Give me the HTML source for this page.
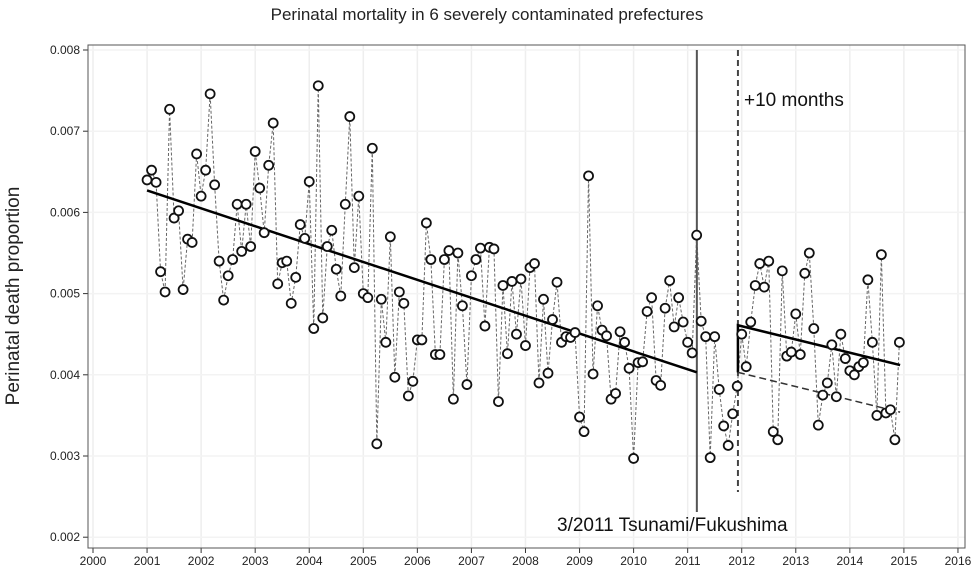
<!DOCTYPE html>
<html><head><meta charset="utf-8"><style>
body{margin:0;background:#fff;}
svg text{font-family:"Liberation Sans",Arial,sans-serif;}
</style></head><body>
<svg id="chart" width="975" height="568" viewBox="0 0 975 568" xmlns="http://www.w3.org/2000/svg">
<text x="487" y="20" text-anchor="middle" font-size="17" fill="#222">Perinatal mortality in 6 severely contaminated prefectures</text>
<text transform="translate(19,296) rotate(-90)" text-anchor="middle" font-size="19" fill="#222">Perinatal death proportion</text>
<g id="grid"></g>
<g id="axes"></g>
<g id="series"></g>
<text x="744" y="106" font-size="19" fill="#111">+10 months</text>
<text x="557" y="531" font-size="19" fill="#111">3/2011 Tsunami/Fukushima</text>
</svg>
<script>
const xTicks=[2000,2001,2002,2003,2004,2005,2006,2007,2008,2009,2010,2011,2012,2013,2014,2015,2016];
const yTicks=[0.002,0.003,0.004,0.005,0.006,0.007,0.008];
const yTickLabels=["0.002","0.003","0.004","0.005","0.006","0.007","0.008"];
const startYear=2001;
// monthly values (per thousand) Jan 2001 - Dec 2014
const values=[
6.40,6.52,6.37,5.27,5.02,7.27,5.93,6.02,5.05,5.67,5.63,6.72,
6.20,6.52,7.46,6.34,5.40,4.92,5.22,5.42,6.10,5.52,6.10,5.58,
6.75,6.30,5.75,6.58,7.10,5.12,5.38,5.40,4.88,5.20,5.85,5.68,
6.38,4.57,7.56,4.70,5.58,5.78,5.30,4.97,6.10,7.18,5.32,6.20,
5.00,4.95,6.79,3.15,4.93,4.40,5.70,3.97,5.02,4.88,3.74,3.92,
4.43,4.43,5.87,5.42,4.25,4.25,5.42,5.53,3.70,5.50,4.85,3.88,
5.22,5.42,5.56,4.60,5.57,5.55,3.67,5.10,4.26,5.15,4.50,5.18,
4.36,5.32,5.37,3.90,4.93,4.02,4.68,5.14,4.40,4.47,4.46,4.52,
3.48,3.30,6.45,4.01,4.85,4.55,4.48,3.70,3.77,4.53,4.40,4.08,
2.97,4.15,4.16,4.78,4.95,3.93,3.87,4.82,5.16,4.59,4.95,4.65,
4.40,4.27,5.72,4.66,4.47,2.98,4.47,3.82,3.37,3.13,3.52,3.86,
4.50,4.10,4.65,5.10,5.37,5.08,5.40,3.30,3.20,5.28,4.23,4.28,
4.75,4.25,5.25,5.50,4.57,3.38,3.75,3.90,4.37,3.73,4.50,4.20,
4.05,4.00,4.10,4.15,5.17,4.40,3.50,5.48,3.53,3.57,3.20,4.40];
const preTrendYears=[2001.0,2011.17];
const preTrendVals=[6.27,4.03];
const postTrendYears=[2011.93,2011.93,2014.93];
const postTrendVals=[4.03,4.61,4.12];
const counterYears=[2011.93,2014.93];
const counterVals=[4.03,3.54];
const eventYears=[2011.17,2011.93];

const NS="http://www.w3.org/2000/svg";
const L=88,R=965,T=45,B=548;
const x=yr=>93+(yr-2000)*54.06;
const y=v=>50+(8-v)*81.2; // v in per-thousand
function mk(tag,attrs,parent){const e=document.createElementNS(NS,tag);for(const k in attrs)e.setAttribute(k,attrs[k]);parent.appendChild(e);return e;}
const grid=document.getElementById('grid'),axes=document.getElementById('axes'),ser=document.getElementById('series');
xTicks.forEach(t=>{
  const g=mk('line',{x1:x(t),x2:x(t),y1:T,y2:B,stroke:'#eee','stroke-width':1.5},grid);
  
  
  mk('line',{x1:x(t),x2:x(t),y1:B,y2:B+5,stroke:'#333'},axes);
  const tx=mk('text',{x:x(t),y:B+17,'text-anchor':'middle','font-size':12,fill:'#222'},axes);
  tx.textContent=t;
  
  
});
yTicks.forEach((t,i)=>{
  const g=mk('line',{x1:L,x2:R,y1:y(t*1000),y2:y(t*1000),stroke:'#f3f3f3','stroke-width':1.5},grid);
  
  
  mk('line',{x1:L-5,x2:L,y1:y(t*1000),y2:y(t*1000),stroke:'#333'},axes);
  const tx=mk('text',{x:L-8,y:y(t*1000)+4,'text-anchor':'end','font-size':12,fill:'#222'},axes);
  tx.textContent=yTickLabels[i];
  
  
});
const frame=mk('rect',{x:L,y:T,width:R-L,height:B-T,fill:'none',stroke:'#555','stroke-width':1},axes);


const px=i=>x(startYear+i/12);
const conn=mk('polyline',{points:values.map((v,i)=>px(i)+','+y(v)).join(' '),fill:'none',stroke:'#666','stroke-width':1,'stroke-dasharray':'3,2'},ser);


const ev1=mk('line',{x1:x(eventYears[0]),x2:x(eventYears[0]),y1:T+5,y2:512,stroke:'#555','stroke-width':2},ser);


const ev2=mk('line',{x1:x(eventYears[1]),x2:x(eventYears[1]),y1:T+5,y2:492,stroke:'#444','stroke-width':2,'stroke-dasharray':'6,4'},ser);


const pre=mk('polyline',{points:preTrendYears.map((t,i)=>x(t)+','+y(preTrendVals[i])).join(' '),fill:'none',stroke:'#000','stroke-width':2.5},ser);


const post=mk('polyline',{points:postTrendYears.map((t,i)=>x(t)+','+y(postTrendVals[i])).join(' '),fill:'none',stroke:'#000','stroke-width':2.5},ser);


const cf=mk('polyline',{points:counterYears.map((t,i)=>x(t)+','+y(counterVals[i])).join(' '),fill:'none',stroke:'#333','stroke-width':1.5,'stroke-dasharray':'7,4'},ser);


values.forEach((v,i)=>{
  const c=mk('circle',{cx:px(i),cy:y(v),r:4.5,fill:'#fff',stroke:'#111','stroke-width':1.8},ser);
  
  
});
</script>
</body></html>
